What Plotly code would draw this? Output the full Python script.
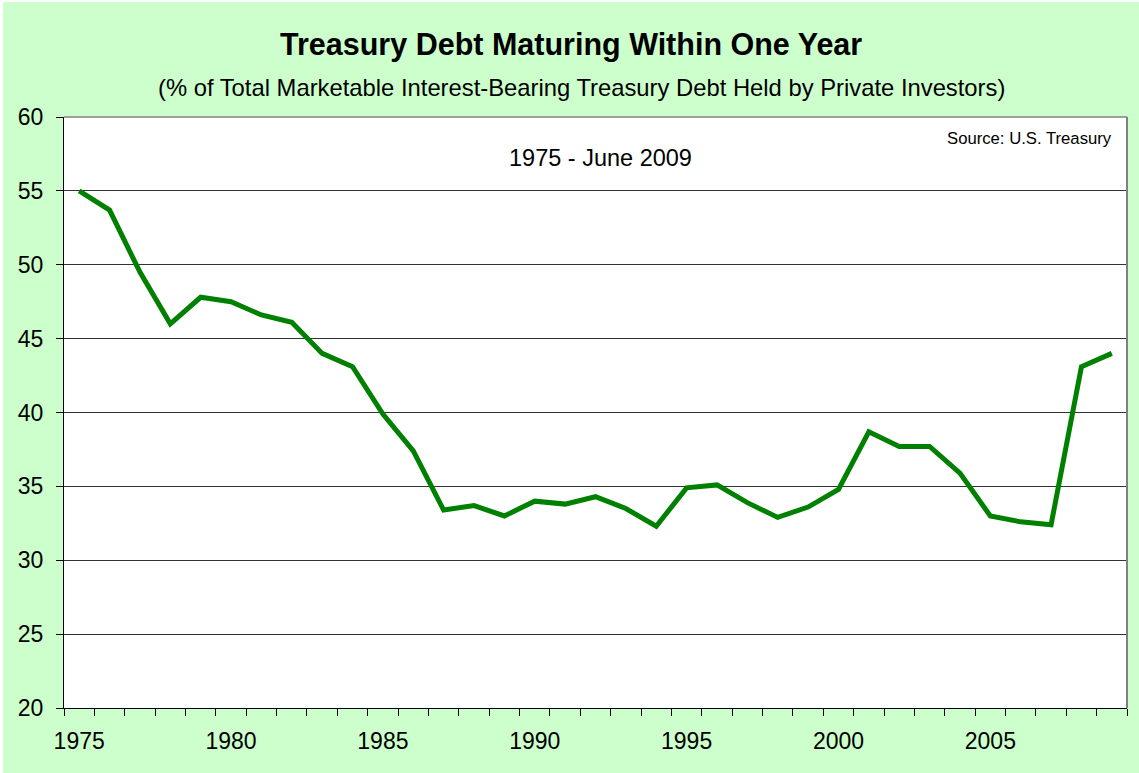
import plotly.graph_objects as go

years = list(range(1975, 2010))
pct = [55.0, 53.7, 49.5, 46.0, 47.8, 47.5, 46.6, 46.1, 44.0, 43.1,
       39.9, 37.4, 33.4, 33.7, 33.0, 34.0, 33.8, 34.3, 33.5, 32.3,
       34.9, 35.1, 33.9, 32.9, 33.6, 34.8, 38.7, 37.7, 37.7, 35.9,
       33.0, 32.6, 32.4, 43.1, 44.0]
x_ticks = [1975, 1980, 1985, 1990, 1995, 2000, 2005]
y_ticks = [20, 25, 30, 35, 40, 45, 50, 55, 60]

FONT = "Liberation Sans, Arial, sans-serif"

fig = go.Figure()
fig.add_trace(go.Scatter(x=years, y=pct, mode="lines",
                         line=dict(color="#008000", width=5),
                         hoverinfo="x+y"))

fig.update_layout(
    width=1136, height=771,
    paper_bgcolor="#CCFFCC", plot_bgcolor="#FFFFFF",
    margin=dict(l=61, r=12, t=115, b=65),
    showlegend=False,
    font=dict(family=FONT, color="#000000"),
    xaxis=dict(range=[1974.5, 2009.5], tickvals=x_ticks,
               ticktext=[str(v) for v in x_ticks], ticks="",
               showgrid=False, zeroline=False,
               showline=True, linecolor="#000000", linewidth=1,
               tickfont=dict(size=23, family=FONT),
               ticklabelstandoff=12,
               minor=dict(tick0=1974.5, dtick=1, ticks="outside",
                          ticklen=7, tickcolor="#000000", showgrid=False)),
    yaxis=dict(range=[20, 60], tickvals=y_ticks, ticks="outside",
               ticklen=7, tickcolor="#000000",
               showgrid=True, gridcolor="#333333", gridwidth=1,
               zeroline=False, showline=True, linecolor="#000000",
               linewidth=1, tickfont=dict(size=23, family=FONT),
               ticklabelstandoff=8),
    annotations=[
        dict(text="<b>Treasury Debt Maturing Within One Year</b>",
             xref="paper", yref="paper", x=0.477, y=1.0, yshift=73,
             xanchor="center", yanchor="middle", showarrow=False,
             font=dict(size=30.5, family=FONT)),
        dict(text="(% of Total Marketable Interest-Bearing Treasury Debt Held by Private Investors)",
             xref="paper", yref="paper", x=0.4864, y=1.0, yshift=30,
             xanchor="center", yanchor="middle", showarrow=False,
             font=dict(size=23.8, family=FONT)),
        dict(text="1975 - June 2009", xref="paper", yref="paper",
             x=0.505, y=1.0, yshift=-41, xanchor="center", yanchor="middle",
             showarrow=False, font=dict(size=23.5, family=FONT)),
        dict(text="Source: U.S. Treasury", xref="paper", yref="paper",
             x=1.0, y=1.0, xshift=-13, yshift=-21, xanchor="right",
             yanchor="middle", showarrow=False,
             font=dict(size=16.7, family=FONT)),
    ],
    shapes=[
        dict(type="line", xref="paper", yref="paper", x0=1, x1=1, y0=0, y1=1,
             line=dict(color="#808080", width=2)),
        dict(type="line", xref="paper", yref="paper", x0=0, x1=1, y0=1, y1=1,
             line=dict(color="#808080", width=1.5)),
    ],
)

fig.write_html("out.html",
               post_script="document.body.style.margin='2px 0 0 3px';"
                           "document.body.style.overflow='hidden';")
